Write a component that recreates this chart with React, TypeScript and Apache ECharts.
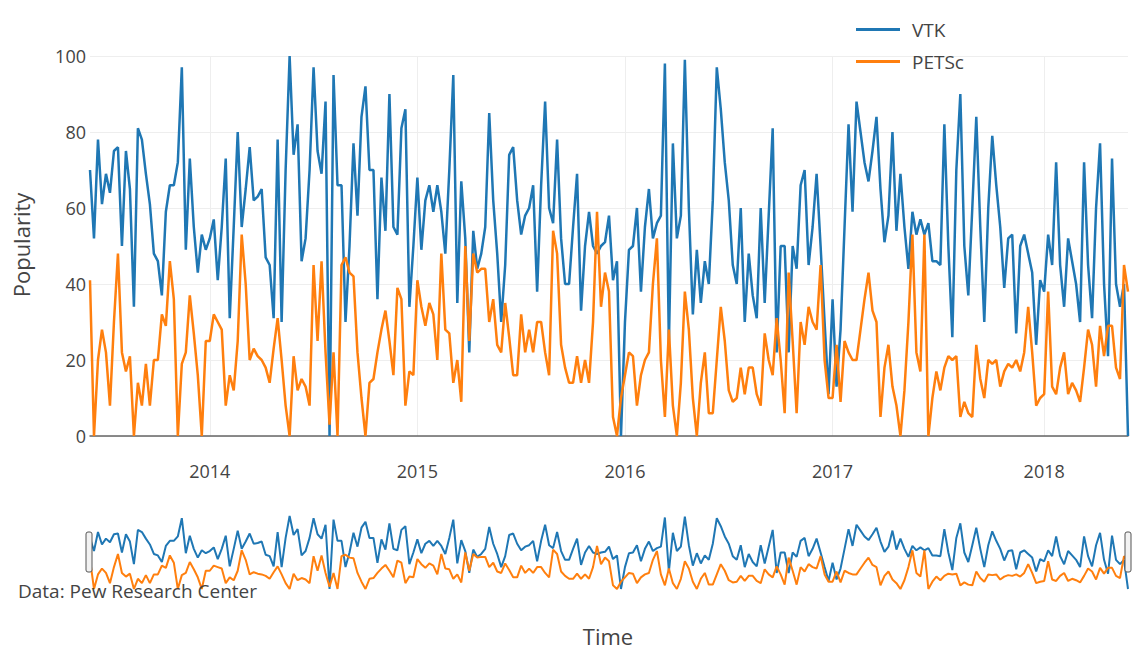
import React, { useEffect, useRef } from "react";
import * as echarts from "echarts";

// First week (Sunday) of the weekly series
const START_DATE = "2013-06-09";
const WEEK_COUNT = 261;

const SERIES_NAMES = ["VTK", "PETSc"];

// VTK weekly popularity
const VTK = [
  70, 52, 78, 61, 69, 64, 75, 76, 50, 75, 65, 34, 81, 78, 69, 61, 48, 46, 37, 59, 66, 66, 72, 97, 49, 73, 55, 43, 53, 49,
  52, 57, 41, 55, 73, 31, 55, 80, 55, 65, 76, 62, 63, 65, 47, 45, 31, 78, 30, 70, 100, 74, 82, 46, 52, 70, 97, 75, 69, 88,
  0, 95, 66, 66, 30, 50, 77, 58, 84, 92, 70, 70, 36, 68, 54, 90, 55, 53, 81, 86, 34, 50,
  68, 49, 62, 66, 59, 66, 59, 48, 70, 95, 35, 67, 52, 22, 54, 44, 48, 55, 85, 62, 48, 30, 45, 74, 76, 62, 53, 58, 60, 66,
  38, 66, 88, 60, 56, 78, 52, 40, 40, 55, 69, 33, 50, 59, 50, 48, 50, 51, 58, 41, 46, 0,
  30, 49, 50, 60, 38, 55, 65, 52, 56, 58, 98, 24, 77, 52, 58, 99, 60, 32, 49, 35, 46, 40, 62, 97, 86, 72, 62, 45, 40, 60,
  30, 48, 37, 31, 60, 35, 58, 81, 22, 50, 50, 22, 50, 44, 66, 70, 45, 55, 69, 50, 30, 11,
  36, 13, 28, 55, 82, 59, 88, 80, 72, 67, 75, 84, 65, 51, 58, 80, 54, 69, 55, 44, 59, 53, 57, 53, 56, 46, 46, 45, 82, 50,
  26, 70, 90, 50, 37, 60, 84, 55, 30, 60, 79, 66, 55, 39, 52, 53, 27, 50, 53, 48, 43, 24,
  41, 38, 53, 45, 72, 45, 34, 52, 46, 40, 30, 72, 45, 31, 60, 77, 40, 21, 73, 40, 34, 40, 0,
];

// PETSc weekly popularity
const PETSC = [
  41, 0, 20, 28, 22, 8, 30, 48, 22, 17, 21, 0, 14, 8, 19, 8, 20, 20, 32, 29, 46, 36, 0, 19, 22, 37, 27, 16, 0, 25,
  25, 32, 30, 28, 8, 16, 12, 25, 53, 40, 20, 23, 21, 20, 18, 14, 23, 31, 20, 8, 0, 21, 12, 15, 13, 8, 45, 25, 46, 22,
  3, 22, 0, 45, 47, 43, 42, 22, 10, 0, 14, 15, 22, 28, 33, 25, 16, 39, 36, 8, 17, 16,
  41, 34, 29, 35, 32, 20, 48, 28, 27, 14, 20, 9, 50, 25, 48, 43, 44, 44, 30, 36, 24, 22, 35, 26, 16, 16, 32, 22, 28, 22,
  30, 30, 22, 16, 54, 48, 24, 18, 14, 14, 21, 14, 20, 14, 30, 59, 34, 43, 38, 5, 0, 10,
  16, 22, 21, 8, 16, 20, 22, 40, 52, 20, 5, 28, 8, 0, 14, 38, 28, 10, 0, 14, 22, 6, 6, 20, 34, 25, 12, 9, 10, 18,
  11, 18, 18, 11, 8, 27, 20, 16, 31, 20, 6, 43, 25, 6, 30, 24, 34, 30, 28, 45, 20, 10,
  10, 24, 9, 25, 22, 20, 20, 28, 36, 43, 33, 30, 5, 18, 24, 13, 8, 0, 12, 30, 53, 22, 17, 53, 0, 10, 17, 12, 18, 21,
  20, 21, 5, 9, 6, 5, 24, 15, 10, 20, 19, 20, 13, 17, 19, 18, 20, 17, 22, 34, 22, 8,
  10, 11, 38, 13, 11, 18, 22, 11, 14, 12, 9, 18, 28, 24, 13, 29, 21, 29, 29, 18, 15, 45, 38,
];

const Y_MIN = 0;
const Y_MAX = 100;
const Y_STEP = 20;

const COLORS = ["#1f77b4", "#ff7f0e"];
const FONT = "'Open Sans', 'Noto Sans', sans-serif";
const TEXT_COLOR = "#444";

function buildWeeks(start: string, n: number): string[] {
  const out: string[] = [];
  const t0 = Date.parse(start + "T00:00:00Z");
  for (let i = 0; i < n; i++) {
    const d = new Date(t0 + i * 7 * 86400000);
    out.push(d.toISOString().slice(0, 10));
  }
  return out;
}

const WEEKS = buildWeeks(START_DATE, WEEK_COUNT);

function isYearStart(index: number, value: string): boolean {
  if (index === 0) return false;
  const prev = WEEKS[index - 1];
  return prev !== undefined && prev.slice(0, 4) !== value.slice(0, 4);
}

export default function App() {
  const ref = useRef<HTMLDivElement | null>(null);

  useEffect(() => {
    if (!ref.current) return;
    const chart = echarts.init(ref.current, undefined, { renderer: "svg" });

    const option: any = {
      animation: false,
      backgroundColor: "#ffffff",
      textStyle: { fontFamily: FONT },
      legend: {
        data: SERIES_NAMES,
        orient: "vertical",
        left: 851,
        top: 13,
        itemWidth: 44,
        itemHeight: 3,
        itemGap: 9,
        icon: "rect",
        textStyle: {
          fontFamily: FONT,
          fontSize: 19,
          color: TEXT_COLOR,
          lineHeight: 23,
          padding: [0, 0, 0, 7],
        },
      },
      grid: [
        { left: 90, right: 7, top: 56, height: 380, containLabel: false },
        { left: 90, right: 7, top: 516, height: 73, containLabel: false },
      ],
      xAxis: [
        {
          type: "category",
          gridIndex: 0,
          data: WEEKS,
          boundaryGap: false,
          axisLine: { show: true, onZero: false, lineStyle: { color: "#666", width: 1.5 } },
          axisTick: { show: false },
          axisLabel: {
            interval: (index: number, value: string) => isYearStart(index, value),
            formatter: (value: string) => value.slice(0, 4),
            color: TEXT_COLOR,
            fontFamily: FONT,
            fontSize: 18,
            margin: 26,
          },
          splitLine: {
            show: true,
            interval: (index: number, value: string) => isYearStart(index, value),
            lineStyle: { color: "#eeeeee", width: 1 },
          },
        },
        {
          type: "category",
          gridIndex: 1,
          data: WEEKS,
          boundaryGap: false,
          show: false,
        },
      ],
      yAxis: [
        {
          type: "value",
          gridIndex: 0,
          min: Y_MIN,
          max: Y_MAX,
          interval: Y_STEP,
          axisLine: { show: false },
          axisTick: { show: false },
          axisLabel: {
            color: TEXT_COLOR,
            fontFamily: FONT,
            fontSize: 18,
            margin: 4,
          },
          splitLine: { show: true, lineStyle: { color: "#eeeeee", width: 1 } },
        },
        {
          type: "value",
          gridIndex: 1,
          min: Y_MIN,
          max: Y_MAX,
          show: false,
          splitLine: { show: false },
        },
      ],
      series: [
        {
          name: SERIES_NAMES[0],
          type: "line",
          xAxisIndex: 0,
          yAxisIndex: 0,
          data: VTK,
          showSymbol: false,
          symbol: "none",
          lineStyle: { color: COLORS[0], width: 2.5 },
          itemStyle: { color: COLORS[0] },
          z: 3,
        },
        {
          name: SERIES_NAMES[1],
          type: "line",
          xAxisIndex: 0,
          yAxisIndex: 0,
          data: PETSC,
          showSymbol: false,
          symbol: "none",
          lineStyle: { color: COLORS[1], width: 2.5 },
          itemStyle: { color: COLORS[1] },
          z: 4,
        },
        {
          name: SERIES_NAMES[0],
          type: "line",
          xAxisIndex: 1,
          yAxisIndex: 1,
          data: VTK,
          showSymbol: false,
          symbol: "none",
          lineStyle: { color: COLORS[0], width: 2 },
          itemStyle: { color: COLORS[0] },
          z: 3,
        },
        {
          name: SERIES_NAMES[1],
          type: "line",
          xAxisIndex: 1,
          yAxisIndex: 1,
          data: PETSC,
          showSymbol: false,
          symbol: "none",
          lineStyle: { color: COLORS[1], width: 2 },
          itemStyle: { color: COLORS[1] },
          z: 4,
        },
      ],
      graphic: [
        {
          type: "text",
          x: 21,
          y: 245,
          rotation: Math.PI / 2,
          z: 10,
          style: {
            text: "Popularity",
            fill: TEXT_COLOR,
            fontFamily: FONT,
            fontSize: 22,
            textAlign: "center",
            textVerticalAlign: "middle",
            align: "center",
            verticalAlign: "middle",
          },
        },
        {
          type: "text",
          x: 608,
          y: 636,
          z: 10,
          style: {
            text: "Time",
            fill: TEXT_COLOR,
            fontFamily: FONT,
            fontSize: 22,
            textAlign: "center",
            textVerticalAlign: "middle",
            align: "center",
            verticalAlign: "middle",
          },
        },
        {
          type: "text",
          x: 18,
          y: 591,
          z: 10,
          style: {
            text: "Data: Pew Research Center",
            fill: TEXT_COLOR,
            fontFamily: FONT,
            fontSize: 19,
            textAlign: "left",
            textVerticalAlign: "middle",
            align: "left",
            verticalAlign: "middle",
          },
        },
        {
          type: "rect",
          z: 10,
          shape: { x: 86, y: 532, width: 6, height: 40, r: 2 },
          style: { fill: "#f2f2f2", stroke: "#555", lineWidth: 1 },
        },
        {
          type: "rect",
          z: 10,
          shape: { x: 1125, y: 532, width: 6, height: 40, r: 2 },
          style: { fill: "#f2f2f2", stroke: "#555", lineWidth: 1 },
        },
      ],
    };

    chart.setOption(option);
    return () => {
      chart.dispose();
    };
  }, []);

  return (
    <div
      ref={ref}
      style={{ position: "fixed", left: 0, top: 0, width: 1135, height: 653, background: "#fff" }}
    />
  );
}
